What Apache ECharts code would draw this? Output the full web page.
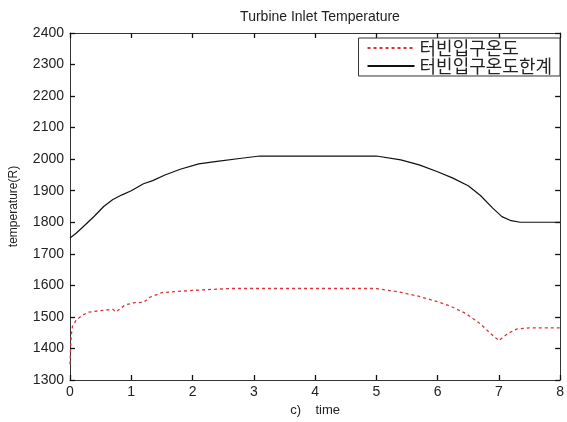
<!DOCTYPE html>
<html>
<head>
<meta charset="utf-8">
<script src="https://cdn.jsdelivr.net/npm/echarts@6/dist/echarts.min.js"></script>
<style>
  html, body { margin: 0; padding: 0; background: #fff; }
  #chart { width: 567px; height: 422px; }
</style>
</head>
<body>
<div id="chart"></div>
<script>
// 터빈입구온도 (dashed red)
const redTime = [0, 0.01, 0.02, 0.04, 0.1, 0.2, 0.3, 0.5, 0.7, 0.75, 0.9, 1.05, 1.2, 1.3, 1.5, 1.7, 2.0, 2.3, 2.6, 3.0, 3.5, 4.0, 4.5, 5.0, 5.4, 5.7, 6.0, 6.2, 6.45, 6.7, 6.85, 7.0, 7.15, 7.3, 7.5, 7.75, 8.0]
const redTemp = [1350, 1400, 1440, 1470, 1490, 1505, 1515, 1520, 1524, 1516, 1538, 1545, 1546, 1562, 1577, 1580, 1584, 1587, 1590, 1590, 1590, 1590, 1590, 1590, 1578, 1565, 1548, 1535, 1512, 1478, 1450, 1425, 1448, 1462, 1465, 1465, 1465]
// 터빈입구온도한계 (solid black)
const blackTime = [0, 0.1, 0.25, 0.4, 0.55, 0.7, 0.85, 1.0, 1.2, 1.35, 1.55, 1.8, 2.1, 2.4, 2.8, 3.1, 3.3, 4.0, 4.5, 5.0, 5.4, 5.7, 6.0, 6.25, 6.5, 6.7, 6.9, 7.05, 7.2, 7.35, 7.6, 8.0]
const blackTemp = [1750, 1765, 1792, 1820, 1850, 1872, 1887, 1900, 1922, 1932, 1950, 1968, 1985, 1993, 2003, 2010, 2010, 2010, 2010, 2010, 1998, 1982, 1960, 1940, 1916, 1885, 1845, 1818, 1805, 1800, 1800, 1800]

const yMin = 1300, yMax = 2400, yStep = 100

const font = 'Liberation Sans, Arial, sans-serif'
const zip = (xs, ys) => xs.map((x, i) => [x, ys[i]])

const chart = echarts.init(document.getElementById('chart'))

// matlab-style box: ticks inward on all four sides
const tickIn = () => ({ show: true, inside: true, length: 5, lineStyle: { color: '#111', width: 1.3 } })
const axisLine = () => ({ show: true, onZero: false, lineStyle: { color: '#333', width: 1 } })

const option = {
  animation: false,
  title: {
    text: 'Turbine Inlet Temperature',
    left: 315, top: 5, textAlign: 'center',
    textStyle: { fontFamily: font, fontSize: 14, fontWeight: 'normal', color: '#222' },
  },
  grid: { left: 67, right: 4, top: 33, bottom: 42 },
  legend: {
    right: 7, top: 38,
    orient: 'vertical',
    align: 'left',
    backgroundColor: '#fff',
    borderColor: '#333', borderWidth: 1,
    borderRadius: 0,
    padding: [1, 8, 1, 8],
    itemGap: 0,
    itemWidth: 47, itemHeight: 16,
    itemStyle: { opacity: 0 },
    textStyle: { fontFamily: 'Noto Sans CJK KR', fontSize: 18, lineHeight: 16, color: '#222' },
    data: ['터빈입구온도', '터빈입구온도한계'],
  },
  xAxis: [
    {
      type: 'value', min: 0, max: 8, interval: 1,
      name: 'c)    time', nameLocation: 'middle', nameGap: 24,
      nameTextStyle: { fontFamily: font, fontSize: 13, color: '#222' },
      axisLine: axisLine(), axisTick: tickIn(), splitLine: { show: false },
      axisLabel: { fontFamily: font, fontSize: 14, color: '#222', margin: 5 },
    },
    {
      type: 'value', min: 0, max: 8, interval: 1, position: 'top',
      axisLine: axisLine(), axisTick: tickIn(), splitLine: { show: false }, axisLabel: { show: false },
    },
  ],
  yAxis: [
    {
      type: 'value', min: yMin, max: yMax, interval: yStep,
      name: 'temperature(R)', nameLocation: 'middle', nameGap: 50,
      nameTextStyle: { fontFamily: font, fontSize: 12, color: '#222' },
      axisLine: axisLine(), axisTick: tickIn(), splitLine: { show: false },
      axisLabel: { fontFamily: font, fontSize: 14, color: '#222', margin: 6, formatter: v => String(v) },
    },
    {
      type: 'value', min: yMin, max: yMax, interval: yStep, position: 'right',
      axisLine: axisLine(), axisTick: tickIn(), splitLine: { show: false }, axisLabel: { show: false },
    },
  ],
  series: [
    {
      name: '터빈입구온도', type: 'line', symbol: 'none',
      data: zip(redTime, redTemp),
      lineStyle: { color: '#d9343a', width: 1.3, type: [3, 3] },
      itemStyle: { color: '#d9343a' },
    },
    {
      name: '터빈입구온도한계', type: 'line', symbol: 'none',
      data: zip(blackTime, blackTemp),
      lineStyle: { color: '#111', width: 1.2 },
      itemStyle: { color: '#111' },
    },
  ],
}

option && chart.setOption(option)
</script>
</body>
</html>
